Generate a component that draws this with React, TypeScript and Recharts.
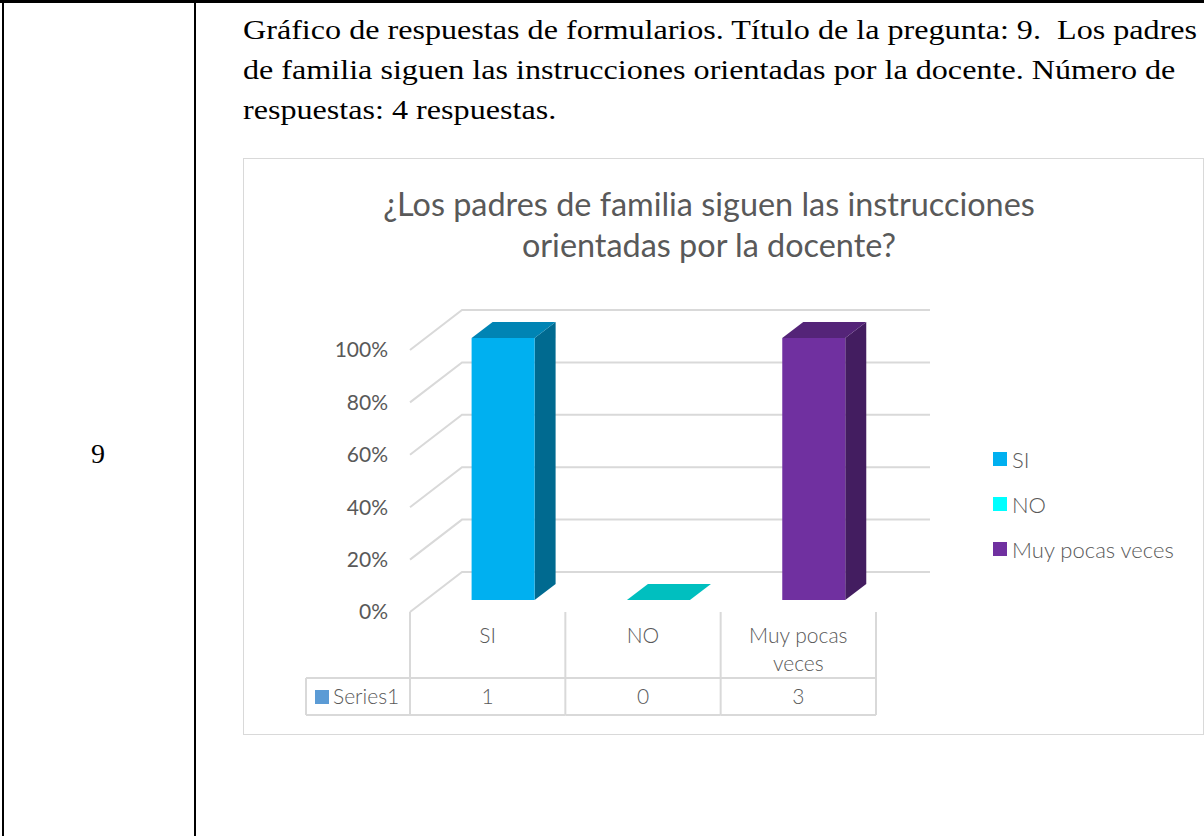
import React from "react";
import { BarChart, Bar, XAxis, YAxis, CartesianGrid, Cell } from "recharts";

const CATEGORIES = ["SI", "NO", "Muy pocas veces"];
const COUNTS = [1, 0, 3];
const COLORS = ["#00B0F0", "#00FFFF", "#7030A0"];
const Y_TICKS = [0, 0.2, 0.4, 0.6, 0.8, 1];
const AXIS_MAX = 1;
const SERIES_NAME = "Series1";
const TITLE_LINES = ["¿Los padres de familia siguen las instrucciones", "orientadas por la docente?"];
const INTRO_LINES = [
  "Gráfico de respuestas de formularios. Título de la pregunta: 9.  Los padres",
  "de familia siguen las instrucciones orientadas por la docente. Número de",
  "respuestas: 4 respuestas.",
];

const data = CATEGORIES.map((name, i) => ({ name, count: COUNTS[i] }));

const GRAY = "#595959";
const GRID = "#D9D9D9";
const FONT = "Lato, 'Open Sans', sans-serif";
const WALL_DX = 52;
const WALL_DY = 40;
const BAR_DX = 21;
const BAR_DY = 16;
const BAR_SHIFT_X = 15.6;
const BAR_SHIFT_Y = 12;

const shade = (hex: string, k: number) => {
  const n = parseInt(hex.slice(1), 16);
  const r = Math.round(((n >> 16) & 255) * k);
  const g = Math.round(((n >> 8) & 255) * k);
  const b = Math.round((n & 255) * k);
  return `rgb(${r},${g},${b})`;
};

const Bar3D = (props: any) => {
  const { x, y, width, height, fill } = props;
  const fx = x + BAR_SHIFT_X;
  const fy = y - BAR_SHIFT_Y;
  const h = Math.max(height, 0);
  return (
    <g>
      {h > 0 && (
        <polygon
          points={`${fx + width},${fy} ${fx + width + BAR_DX},${fy - BAR_DY} ${fx + width + BAR_DX},${fy + h - BAR_DY} ${fx + width},${fy + h}`}
          fill={shade(fill, 0.6)}
        />
      )}
      <polygon
        points={`${fx},${fy} ${fx + BAR_DX},${fy - BAR_DY} ${fx + width + BAR_DX},${fy - BAR_DY} ${fx + width},${fy}`}
        fill={shade(fill, 0.75)}
      />
      {h > 0 && <rect x={fx} y={fy} width={width} height={h} fill={fill} />}
    </g>
  );
};

const gridLine = (props: any) => {
  const { x1, y1, x2, key } = props;
  return (
    <polyline
      key={key}
      points={`${x1},${y1} ${x1 + WALL_DX},${y1 - WALL_DY} ${x2 + WALL_DX + 2},${y1 - WALL_DY}`}
      fill="none"
      stroke={GRID}
      strokeWidth={2}
    />
  );
};

const wrap = (s: string) => {
  if (s.length <= 10) return [s];
  const i = s.lastIndexOf(" ");
  return [s.slice(0, i), s.slice(i + 1)];
};

const CategoryTick = (props: any) => {
  const { x, y, payload, index, width } = props;
  const bw = width / CATEGORIES.length;
  const left = x - bw / 2;
  const right = x + bw / 2;
  const lines = wrap(String(payload.value));
  return (
    <g fontFamily={FONT} fontWeight={300}>
      <line x1={left} y1={y} x2={left} y2={y + 103} stroke={GRID} strokeWidth={2} />
      {index === CATEGORIES.length - 1 && (
        <line x1={right} y1={y} x2={right} y2={y + 103} stroke={GRID} strokeWidth={2} />
      )}
      <line x1={index === 0 ? left - 104 : left} y1={y + 66} x2={right} y2={y + 66} stroke={GRID} strokeWidth={2} />
      <line x1={index === 0 ? left - 104 : left} y1={y + 103} x2={right} y2={y + 103} stroke={GRID} strokeWidth={2} />
      {index === 0 && (
        <g>
          <line x1={left - 104} y1={y + 66} x2={left - 104} y2={y + 103} stroke={GRID} strokeWidth={2} />
          <rect x={left - 95} y={y + 78} width={14} height={14} fill="#5B9BD5" />
          <text x={left - 77} y={y + 92} fontSize={21} fill={GRAY}>{SERIES_NAME}</text>
        </g>
      )}
      {lines.map((l, i) => (
        <text key={i} x={x} y={y + 31 + i * 28} textAnchor="middle" fontSize={21} fill={GRAY}>{l}</text>
      ))}
      <text x={x} y={y + 92} textAnchor="middle" fontSize={21} fill={GRAY}>{COUNTS[index]}</text>
    </g>
  );
};

export default function App() {
  return (
    <div style={{ position: "fixed", left: 0, top: 0, width: 1204, height: 836, background: "#fff", overflow: "hidden" }}>
      <div style={{ position: "absolute", left: 2, top: 0, width: 2, height: 836, background: "#000" }} />
      <div style={{ position: "absolute", left: 194, top: 0, width: 2, height: 836, background: "#000" }} />
      <div style={{ position: "absolute", left: 0, top: 0, width: 1204, height: 3, background: "#000" }} />
      <div style={{
        position: "absolute", left: 0, width: 196, top: 434, textAlign: "center",
        fontFamily: "'Liberation Serif', serif", fontSize: 28, lineHeight: "40px",
      }}>9</div>
      {INTRO_LINES.map((l, i) => (
        <div key={i} style={{
          position: "absolute", left: 243, top: 10 + i * 40, whiteSpace: "pre",
          fontFamily: "'Liberation Serif', serif", fontSize: 27, lineHeight: "40px", color: "#000",
          transform: "scaleX(1.19)", transformOrigin: "0 0",
        }}>{l}</div>
      ))}
      <div style={{
        position: "absolute", left: 243, top: 158, width: 959, height: 575,
        border: `1px solid ${GRID}`,
      }} />
      {TITLE_LINES.map((l, i) => (
        <div key={i} style={{
          position: "absolute", left: 359, width: 700, top: 182 + i * 41, textAlign: "center",
          fontFamily: FONT, fontSize: 32.4, lineHeight: "44px", color: GRAY, whiteSpace: "pre",
        }}>{l}</div>
      ))}
      <div style={{ position: "absolute", left: 243, top: 158 }}>
        <BarChart width={961} height={577} data={data} margin={{ top: 192, left: 107, right: 328, bottom: 13 }}>
          <CartesianGrid vertical={false} horizontal={gridLine} />
          <XAxis
            dataKey="name" axisLine={false} tickLine={false} tickSize={0} tickMargin={0}
            height={110} interval={0} tick={<CategoryTick />}
          />
          <YAxis
            domain={[0, AXIS_MAX]} ticks={Y_TICKS} width={60} axisLine={false} tickLine={false}
            tickSize={0} tickMargin={22}
            tickFormatter={(v: number) => `${Math.round(v * 100)}%`}
            tick={{ fill: GRAY, fontSize: 21, fontFamily: FONT }}
          />
          <Bar
            dataKey={(d: any) => Math.min(d.count, AXIS_MAX)} barSize={63}
            shape={Bar3D} isAnimationActive={false}
          >
            {data.map((d, i) => <Cell key={d.name} fill={COLORS[i]} />)}
          </Bar>
        </BarChart>
      </div>
      {CATEGORIES.map((c, i) => (
        <div key={c} style={{
          position: "absolute", left: 993, top: 447 + i * 45, height: 24, display: "flex", alignItems: "center",
          fontFamily: FONT, fontWeight: 300, fontSize: 22, color: GRAY, whiteSpace: "nowrap",
        }}>
          <div style={{ width: 14, height: 14, background: COLORS[i], marginRight: 5 }} />
          {c}
        </div>
      ))}
    </div>
  );
}
